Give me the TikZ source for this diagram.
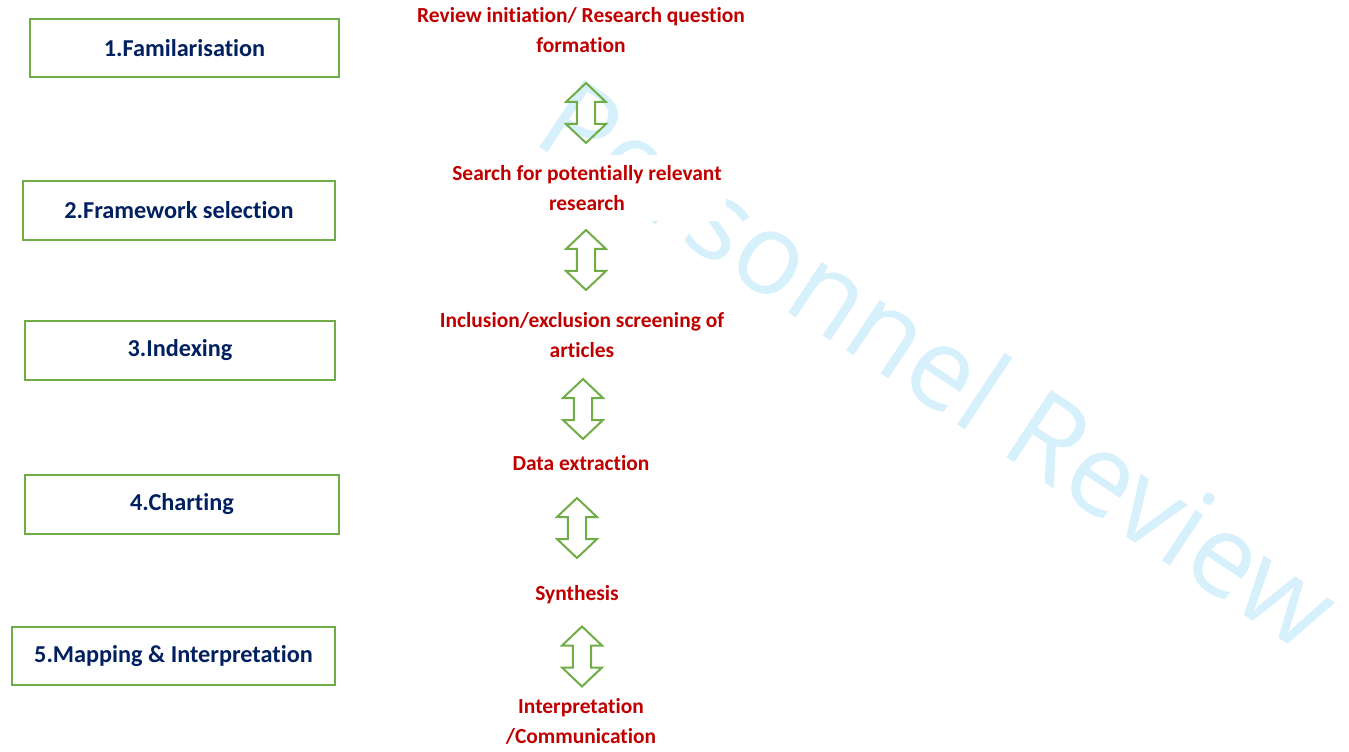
\documentclass[tikz,border=0pt]{standalone}
\usepackage{fontspec}
\setmainfont{Carlito}[Ligatures=NoCommon]
\newfontfamily\markfont{Open Sans}
\usepackage{tikz}

\definecolor{stagegreen}{HTML}{70AD47}
\definecolor{stagenavy}{HTML}{002060}
\definecolor{stepred}{HTML}{C00000}
\definecolor{markblue}{HTML}{D6F0FC}

\begin{document}
\begin{tikzpicture}[x=0.75pt,y=-0.75pt,
      stagebox/.style = { draw=stagegreen, line width=1.9pt, fill=white,
                          text=stagenavy, font=\fontsize{18.2}{21}\selectfont\bfseries},
      steptext/.style = { text=stepred, fill=white, align=center, inner ysep=7.5pt,
                          font=\fontsize{16.1}{22.5}\selectfont\bfseries},
      twoway/.pic = { \draw[stagegreen, line width=1.5pt, line join=miter]
                        (0,-30) -- (20,-11) -- (9.2,-11) -- (9.2,11) -- (20,11)
                        -- (0,30) -- (-20,11) -- (-9.2,11) -- (-9.2,-11)
                        -- (-20,-11) -- cycle; }]
  \useasboundingbox (0,0) rectangle (1349,752);

  % Watermark
  \node[anchor=base west, rotate=-33.6, inner sep=0pt, text=markblue,
        font=\markfont\fontsize{85}{90}\selectfont] (mark) at (530,141) {Personnel Review};

  % Framework stages
  \node[stagebox, minimum width=309*0.75pt, minimum height=58*0.75pt] (s1) at (184.5,48) {1.Familarisation};
  \node[stagebox, minimum width=312*0.75pt, minimum height=59*0.75pt] (s2) at (179,210.5) {2.Framework selection};
  \node[stagebox, minimum width=310*0.75pt, minimum height=59*0.75pt] (s3) at (180,350.5) {3.Indexing};
  \node[stagebox, minimum width=314*0.75pt, minimum height=59*0.75pt] (s4) at (182,504.5) {4.Charting};
  \node[stagebox, minimum width=323*0.75pt, minimum height=58*0.75pt] (s5) at (173.5,656) {5.Mapping \& Interpretation};

  % Review steps
  \node[steptext] (r1) at (581,30) {Review initiation/ Research question\\formation};
  \node[steptext] (r2) at (587,188) {Search for potentially relevant\\research};
  \node[steptext] (r3) at (582,335) {Inclusion/exclusion screening of\\articles};
  \node[steptext] (r4) at (581,463) {Data extraction};
  \node[steptext] (r5) at (577,595) {Synthesis};
  \node[steptext] (r6) at (581,721) {Interpretation\\/Communication};

  % Two-way arrows
  \pic at (586,113) {twoway};
  \pic at (586,260) {twoway};
  \pic at (583,409) {twoway};
  \pic at (577,528) {twoway};
  \pic at (582,656.5) {twoway};
\end{tikzpicture}
\end{document}
